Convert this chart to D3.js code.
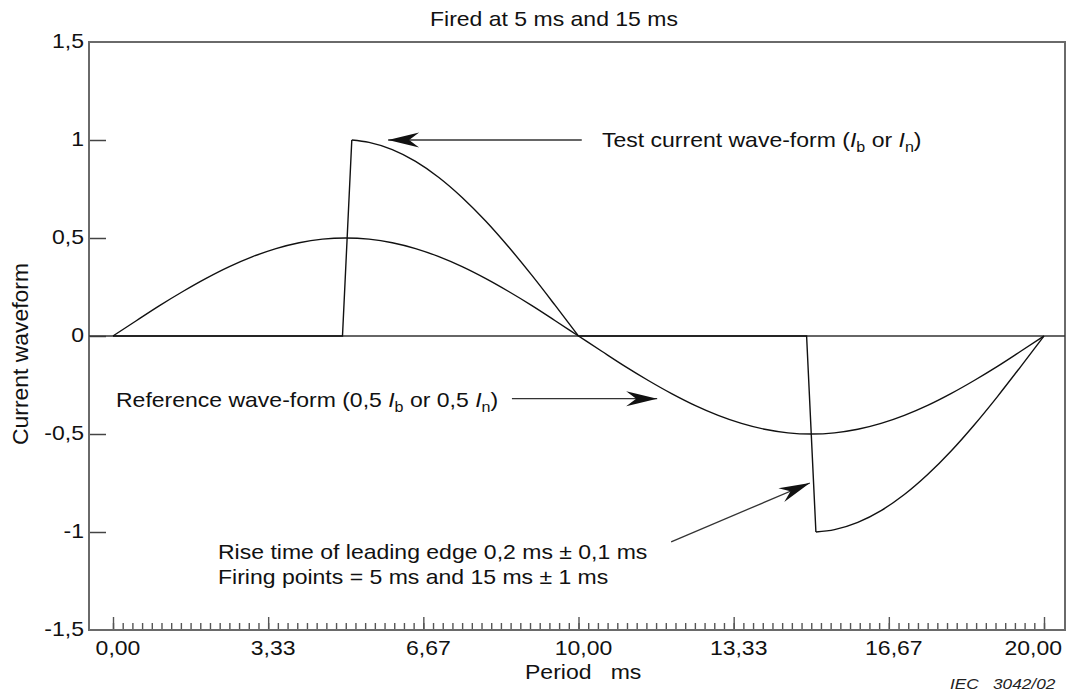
<!DOCTYPE html>
<html>
<head>
<meta charset="utf-8">
<script src="https://cdn.jsdelivr.net/npm/d3@7"></script>
<style>
  html, body { margin: 0; padding: 0; background: #fff; }
  svg { display: block; }
  text { font-family: "Liberation Sans", Arial, Helvetica, sans-serif; fill: #111; }
</style>
</head>
<body>
<svg id="chart" width="1069" height="696"></svg>
<script>
// ---------------- data ----------------
const title = "Fired at 5 ms and 15 ms";
const xAxisTitle = "Period   ms";
const yAxisTitle = "Current waveform";

const xMajorTicks = [0, 10/3, 20/3, 10, 40/3, 50/3, 20];
const xMajorLabels = ["0,00", "3,33", "6,67", "10,00", "13,33", "16,67", "20,00"];
const xMinorCount = 96;                    // minor tick divisions over one 20 ms period

const yTicks = [-1.5, -1, -0.5, 0, 0.5, 1, 1.5];
const yTickLabels = ["-1,5", "-1", "-0,5", "0", "0,5", "1", "1,5"];

// Reference wave-form (0,5 Ib), t in ms
const refTime = [0, 0.5, 1, 1.5, 2, 2.5, 3, 3.5, 4, 4.5, 5, 5.5, 6, 6.5, 7, 7.5, 8, 8.5, 9, 9.5, 10,
                 10.5, 11, 11.5, 12, 12.5, 13, 13.5, 14, 14.5, 15, 15.5, 16, 16.5, 17, 17.5, 18, 18.5, 19, 19.5, 20];
const refCurrent = [0, 0.078, 0.155, 0.227, 0.294, 0.354, 0.405, 0.446, 0.476, 0.494, 0.5,
                    0.494, 0.476, 0.446, 0.405, 0.354, 0.294, 0.227, 0.155, 0.078, 0,
                    -0.078, -0.155, -0.227, -0.294, -0.354, -0.405, -0.446, -0.476, -0.494, -0.5,
                    -0.494, -0.476, -0.446, -0.405, -0.354, -0.294, -0.227, -0.155, -0.078, 0];

// Test current wave-form (Ib), fired at 5 ms and 15 ms (smooth parts after each firing)
const testPosTime = [5.13, 5.5, 6, 6.5, 7, 7.5, 8, 8.5, 9, 9.5, 10];
const testPosCurrent = [1, 0.988, 0.951, 0.891, 0.809, 0.707, 0.588, 0.454, 0.309, 0.156, 0];
const testNegTime = [15.1, 15.5, 16, 16.5, 17, 17.5, 18, 18.5, 19, 19.5, 20];
const testNegCurrent = [-1, -0.988, -0.951, -0.891, -0.809, -0.707, -0.588, -0.454, -0.309, -0.156, 0];
// leading edges (straight) including the zero-current intervals before firing
const edge1Time = [0, 4.93, 5.13];
const edge1Current = [0, 0, 1];
const edge2Time = [10, 14.9, 15.1];
const edge2Current = [0, 0, -1];

// annotation anchors (data coordinates: [ms, current])
const testArrow = [[10.07, 1.0], [5.91, 1.0]];
const refArrow = [[8.57, -0.32], [11.69, -0.32]];
const riseArrow = [[11.99, -1.05], [14.97, -0.75]];

// ---------------- drawing ----------------
const svg = d3.select("#chart");
const frame = { left: 89, right: 1065, top: 42, bottom: 630 };

const x = d3.scaleLinear().domain([0, 20]).range([113, 1044]);
const y = d3.scaleLinear().domain([-1.5, 1.5]).range([frame.bottom, frame.top]);

const SX = 1.15; // horizontal glyph stretch seen in the reference
function stext(parent, px, py, anchor, size) {
  return parent.append("text")
    .attr("transform", `translate(${px},${py}) scale(${SX},1)`)
    .attr("text-anchor", anchor)
    .style("font-size", size + "px");
}

// arrow marker
const defs = svg.append("defs");
defs.append("marker")
  .attr("id", "arrow")
  .attr("markerUnits", "userSpaceOnUse")
  .attr("viewBox", "-32 -10 34 20")
  .attr("markerWidth", 34).attr("markerHeight", 20)
  .attr("refX", 0).attr("refY", 0)
  .attr("orient", "auto")
  .append("path")
  .attr("d", "M0,0 L-31,-7.5 L-21,0 L-31,7.5 Z")
  .attr("fill", "#111");

// x ticks (minor + major), pointing up inside the frame
const minorVals = d3.range(0, xMinorCount + 1).map(i => i * 20 / xMinorCount);
svg.append("g")
  .attr("transform", `translate(0,${frame.bottom})`)
  .call(d3.axisBottom(x).tickValues(minorVals).tickSizeInner(-7).tickSizeOuter(0).tickFormat(""))
  .call(g => g.select(".domain").remove())
  .call(g => g.selectAll("line").attr("stroke", "#555").attr("stroke-width", 1.4));
svg.append("g")
  .attr("transform", `translate(0,${frame.bottom})`)
  .call(d3.axisBottom(x).tickValues(xMajorTicks).tickSizeInner(-13).tickSizeOuter(0).tickFormat(""))
  .call(g => g.select(".domain").remove())
  .call(g => g.selectAll("line").attr("stroke", "#555").attr("stroke-width", 1.4));

// y ticks pointing right
svg.append("g")
  .attr("transform", `translate(${frame.left},0)`)
  .call(d3.axisLeft(y).tickValues(yTicks.filter(v => Math.abs(v) < 1.5)).tickSizeInner(-17).tickSizeOuter(0).tickFormat(""))
  .call(g => g.select(".domain").remove())
  .call(g => g.selectAll("line").attr("stroke", "#444").attr("stroke-width", 1.5));

// frame
svg.append("rect")
  .attr("x", frame.left).attr("y", frame.top)
  .attr("width", frame.right - frame.left).attr("height", frame.bottom - frame.top)
  .attr("fill", "none").attr("stroke", "#6a6a6a").attr("stroke-width", 2);

// zero line
svg.append("line")
  .attr("x1", frame.left).attr("x2", frame.right)
  .attr("y1", y(0)).attr("y2", y(0))
  .attr("stroke", "#333").attr("stroke-width", 1.6);

// tick labels
const labels = svg.append("g");
yTicks.forEach((v, i) => {
  stext(labels, 84, y(v) + 6, "end", 20).text(yTickLabels[i]);
});
xMajorTicks.forEach((v, i) => {
  if (i === xMajorTicks.length - 1) {
    stext(labels, 1062, 655, "end", 20).text(xMajorLabels[i]);
  } else {
    stext(labels, x(v) + 5, 655, "middle", 20).text(xMajorLabels[i]);
  }
});

// titles
stext(svg, 430, 26, "start", 20).text(title);
stext(svg, 525, 679, "start", 20).attr("xml:space", "preserve").style("white-space", "pre").text(xAxisTitle);
svg.append("text")
  .attr("transform", "translate(28,354) rotate(-90)")
  .attr("text-anchor", "middle")
  .style("font-size", "22px")
  .attr("textLength", 182).attr("lengthAdjust", "spacingAndGlyphs")
  .text(yAxisTitle);

// curves
const zip = (a, b) => a.map((t, i) => [t, b[i]]);
const smooth = d3.line().x(d => x(d[0])).y(d => y(d[1])).curve(d3.curveMonotoneX);
const straight = d3.line().x(d => x(d[0])).y(d => y(d[1])).curve(d3.curveLinear);
const curveStyle = p => p.attr("fill", "none").attr("stroke", "#111").attr("stroke-width", 1.4)
  .attr("stroke-linejoin", "miter");

svg.append("path").attr("d", smooth(zip(refTime, refCurrent))).call(curveStyle);
svg.append("path").attr("d", straight(zip(edge1Time, edge1Current))).call(curveStyle);
svg.append("path").attr("d", straight(zip(edge2Time, edge2Current))).call(curveStyle);
svg.append("path").attr("d", smooth(zip(testPosTime, testPosCurrent))).call(curveStyle);
svg.append("path").attr("d", smooth(zip(testNegTime, testNegCurrent))).call(curveStyle);

// annotation arrows
[testArrow, refArrow, riseArrow].forEach(a => {
  svg.append("line")
    .attr("x1", x(a[0][0])).attr("y1", y(a[0][1]))
    .attr("x2", x(a[1][0])).attr("y2", y(a[1][1]))
    .attr("stroke", "#333").attr("stroke-width", 1.3)
    .attr("marker-end", "url(#arrow)");
});

// annotation texts (with italic I and subscripts)
function richText(px, py, parts) {
  const t = stext(svg, px, py, "start", 20);
  parts.forEach(p => {
    const s = t.append("tspan").text(p.t);
    if (p.i) s.style("font-style", "italic");
    if (p.sub) s.attr("dy", 5).style("font-size", "14px");
    if (p.up) s.attr("dy", -5);
  });
  return t;
}
richText(602, 147, [
  { t: "Test current wave-form (" }, { t: "I", i: true }, { t: "b", sub: true },
  { t: " or ", up: true }, { t: "I", i: true }, { t: "n", sub: true }, { t: ")", up: true }
]);
richText(116, 407, [
  { t: "Reference wave-form (0,5 " }, { t: "I", i: true }, { t: "b", sub: true },
  { t: " or 0,5 ", up: true }, { t: "I", i: true }, { t: "n", sub: true }, { t: ")", up: true }
]);
stext(svg, 218, 559, "start", 20).text("Rise time of leading edge 0,2 ms ± 0,1 ms");
stext(svg, 218, 584, "start", 20).text("Firing points = 5 ms and 15 ms ± 1 ms");

// figure reference
svg.append("text").attr("transform", "translate(950,689) scale(1.15,1)")
  .style("font-size", "15px").style("font-style", "italic").style("fill", "#222").text("IEC");
svg.append("text").attr("transform", "translate(993,689) scale(1.15,1)")
  .style("font-size", "15px").style("font-style", "italic").style("fill", "#222").text("3042/02");
</script>
</body>
</html>
